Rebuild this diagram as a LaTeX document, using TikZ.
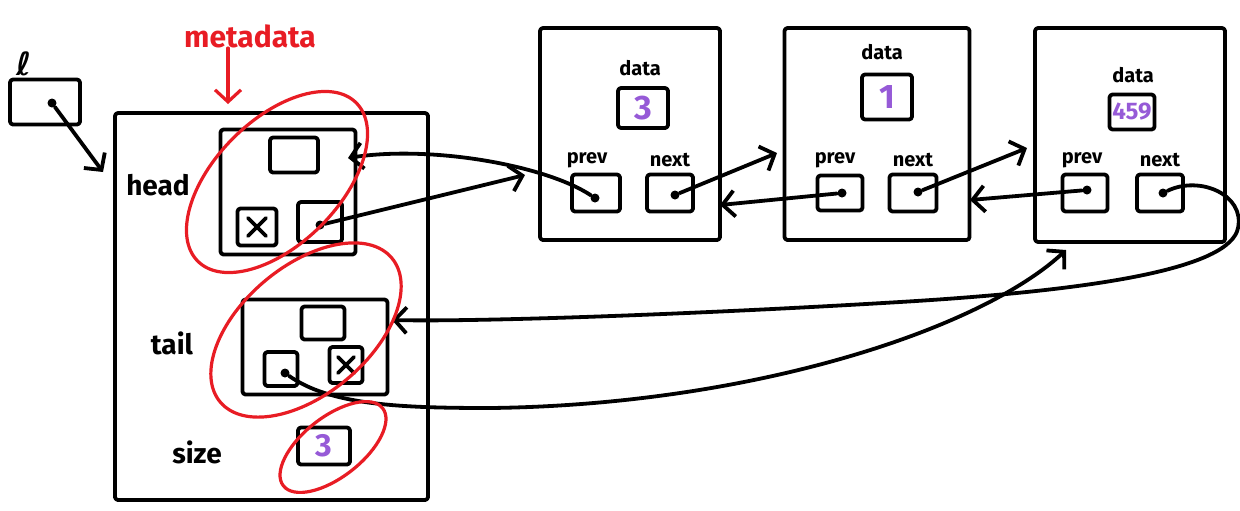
\documentclass[tikz,border=0pt]{standalone}
\usepackage{fontspec}
\setmainfont{Fira Sans}
\newfontfamily\dvsans{DejaVu Sans}
\usetikzlibrary{arrows.meta,calc}
\definecolor{mred}{RGB}{232,28,36}
\definecolor{mpurple}{RGB}{150,90,215}
\begin{document}
\begin{tikzpicture}[x=0.5pt,y=-0.5pt,
  ink/.style={line width=1.9pt, line cap=round, line join=round},
  box/.style={ink, draw, rectangle, rounded corners=1.5pt, inner sep=0pt},
  arr/.style={ink, -{Straight Barb[length=6pt,width=13pt]}},
  redarr/.style={line width=1.6pt, draw=mred, line cap=round, -{Straight Barb[length=6pt,width=13pt]}},
  dot/.style={circle, fill, inner sep=0pt, minimum size=4.5pt},
  small/.style={font=\bfseries\fontsize{10}{10}\selectfont, inner sep=0pt},
  big/.style={font=\bfseries\fontsize{14}{14}\selectfont, inner sep=0pt},
  val/.style={text=mpurple},
  loop/.style={draw=mred, line width=1.6pt}
]
\useasboundingbox (0,0) rectangle (1240,510);

% ---- the list handle l ----
\node[font=\dvsans\bfseries\fontsize{16}{16}\selectfont, inner sep=0pt] (lname) at (24,64) {ℓ};
\node[box, minimum width=35pt, minimum height=22.5pt] (lbox) at (45,102) {};
\node[dot] (ld) at (52,103) {};

% ---- metadata struct ----
\node[font=\bfseries\fontsize{15}{15}\selectfont, text=mred, inner sep=0pt] (meta) at (250,36) {metadata};
\coordinate (mtip) at (228,104);
\node[box, minimum width=156.5pt, minimum height=193.5pt] (list) at (271.5,306.5) {};
\coordinate (listin) at (103,172);

\node[big] (headlbl) at (158,185) {head};
\node[box, minimum width=67.5pt, minimum height=62.5pt] (head) at (288,192) {};
\node[box, minimum width=24pt, minimum height=17.5pt] (hd) at (294,155) {};
\node[box, minimum width=19.5pt, minimum height=18.5pt] (hp) at (257,227) {};
\node[box, minimum width=22pt, minimum height=20pt] (hn) at (320,222) {};
\node[dot] (hnd) at (320,225) {};
\draw[ink] ($(hp.center)+(-9,-9)$) -- ($(hp.center)+(9,9)$)
           ($(hp.center)+(9,-9)$) -- ($(hp.center)+(-9,9)$);

\node[big] (taillbl) at (172,343) {tail};
\node[box, minimum width=72.5pt, minimum height=47.5pt] (tail) at (315,347) {};
\node[box, minimum width=21.5pt, minimum height=16.5pt] (td) at (323,323) {};
\node[box, minimum width=16.5pt, minimum height=17pt] (tp) at (281,369) {};
\node[box, minimum width=16.5pt, minimum height=18pt] (tn) at (346,365) {};
\node[dot] (tpd) at (285,373) {};
\draw[ink] ($(tn.center)+(-8,-8)$) -- ($(tn.center)+(8,8)$)
           ($(tn.center)+(8,-8)$) -- ($(tn.center)+(-8,8)$);

\node[big] (sizelbl) at (197,452) {size};
\node[box, val, minimum width=26pt, minimum height=18.5pt, font=\bfseries\fontsize{16}{16}\selectfont] (sz) at (324,446) {3};

% ---- list nodes ----
\node[box, minimum width=90pt, minimum height=106pt] (n1) at (630,134) {};
\node[small] at (640,68) {data};
\node[box, val, minimum width=25pt, minimum height=20pt, font=\bfseries\fontsize{17}{17}\selectfont] (n1d) at (643,108) {3};
\node[small] at (587,160) {prev};
\node[small] at (670,160) {next};
\node[box, minimum width=24pt, minimum height=18.5pt] (n1p) at (596,193) {};
\node[box, minimum width=23pt, minimum height=18.5pt] (n1n) at (670,193) {};
\node[dot] (n1pd) at (595,198) {};
\node[dot] (n1nd) at (675,195) {};

\node[box, minimum width=92.5pt, minimum height=106pt] (n2) at (877,134) {};
\node[small] at (882,52) {data};
\node[box, val, minimum width=25pt, minimum height=22.5pt, font=\bfseries\fontsize{17}{17}\selectfont] (n2d) at (887,97) {1};
\node[small] at (835,160) {prev};
\node[small] at (913,160) {next};
\node[box, minimum width=22.5pt, minimum height=17.5pt] (n2p) at (840,193) {};
\node[box, minimum width=23.5pt, minimum height=18.5pt] (n2n) at (913,193) {};
\node[dot] (n2pd) at (842,193) {};
\node[dot] (n2nd) at (918,192) {};

\node[box, minimum width=95pt, minimum height=107pt] (n3) at (1130,135) {};
\node[small] at (1133,75) {data};
\node[box, val, minimum width=22.5pt, minimum height=17.5pt, font=\bfseries\fontsize{12}{12}\selectfont] (n3d) at (1132,112) {459};
\node[small] at (1082,160) {prev};
\node[small] at (1160,160) {next};
\node[box, minimum width=22.5pt, minimum height=18.5pt] (n3p) at (1085,193) {};
\node[box, minimum width=23pt, minimum height=18.5pt] (n3n) at (1160,193) {};
\node[dot] (n3pd) at (1087,190) {};
\node[dot] (n3nd) at (1163,193) {};

% ---- arrow ends ----
\coordinate (headin) at (348,158);
\coordinate (n1in) at (525,175);
\coordinate (n1out) at (720,205);
\coordinate (n2in) at (777,153);
\coordinate (n2out) at (970,200);
\coordinate (n3in) at (1027,148);
\coordinate (n3bot) at (1066,250);
\coordinate (tailin) at (392,320);

% ---- pointers ----
\draw[arr] (ld) -- (listin);
\draw[redarr] (meta.south -| mtip) -- (mtip);
\draw[arr] (hnd) -- (n1in);
\draw[arr] (n1pd) .. controls (545,165) and (430,145) .. (headin);
\draw[arr] (n1nd) -- (n2in);
\draw[arr] (n2pd) -- (n1out);
\draw[arr] (n2nd) -- (n3in);
\draw[arr] (n3pd) -- (n2out);
\draw[arr] (n3nd) .. controls (1200,175) and (1245,195) .. (1238,228)
               .. controls (1230,268) and (1100,290) .. (900,302)
               .. controls (700,314) and (480,322) .. (tailin);
\draw[arr] (tpd) .. controls (330,405) and (400,408) .. (490,408)
               .. controls (750,405) and (980,330) .. (n3bot);

% ---- metadata circled ----
\draw[loop, rotate around={45:(277,182)}] (277,182) ellipse [x radius=56pt, y radius=31pt];
\draw[loop, rotate around={40:(306,330)}] (306,330) ellipse [x radius=56pt, y radius=32pt];
\draw[loop, rotate around={38:(333,447)}] (333,447) ellipse [x radius=31.5pt, y radius=15pt];
\end{tikzpicture}
\end{document}
